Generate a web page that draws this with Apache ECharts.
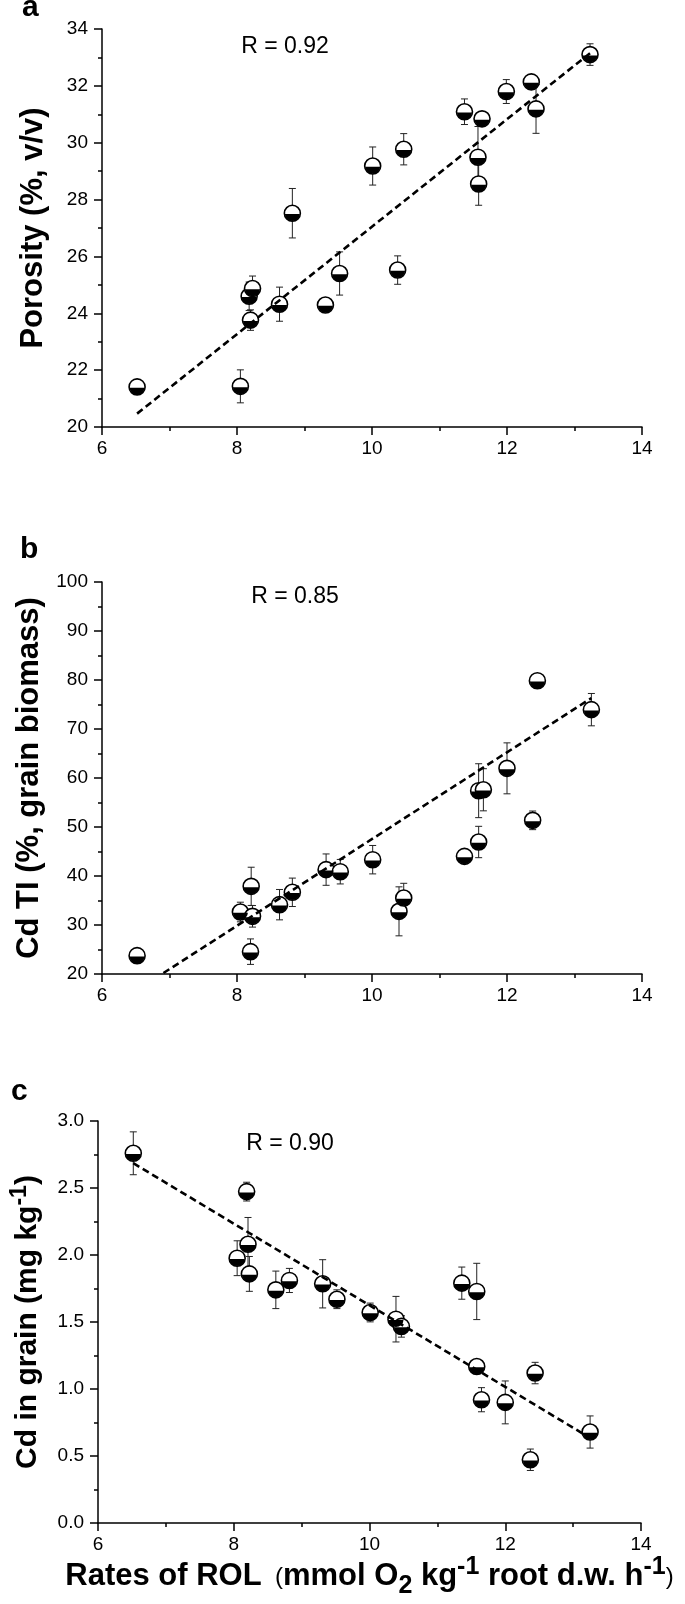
<!DOCTYPE html>
<html>
<head>
<meta charset="utf-8">
<script src="https://cdn.jsdelivr.net/npm/echarts@6/dist/echarts.min.js"></script>
<style>
html, body { margin: 0; padding: 0; background: #fff; }
#chart { width: 685px; height: 1604px; }
</style>
</head>
<body>
<div id="chart"></div>
<script>
// ---------- Data ----------
// Panel a: Porosity vs ROL
const rolA = [6.52, 8.05, 8.18, 8.23, 8.20, 8.63, 8.82, 9.31, 9.52, 10.01, 10.38, 10.47, 11.37, 11.57, 11.58, 11.63, 11.99, 12.36, 12.43, 13.23];
const porosity = [21.41, 21.43, 24.60, 24.87, 23.76, 24.32, 27.52, 24.29, 25.40, 29.18, 25.52, 29.77, 31.09, 29.49, 28.55, 30.84, 31.80, 32.14, 31.19, 33.10];
const porosityErr = [0.2, 0.58, 0.5, 0.44, 0.36, 0.6, 0.87, 0.15, 0.76, 0.67, 0.5, 0.55, 0.45, 1.08, 0.75, 0.2, 0.42, 0.2, 0.86, 0.38];
const fitA = [[6.52, 20.47], [13.23, 33.15]];

// Panel b: Cd TI vs ROL
const rolB = [6.52, 8.05, 8.21, 8.23, 8.20, 8.63, 8.82, 9.32, 9.53, 10.01, 10.40, 10.47, 11.37, 11.58, 11.58, 11.65, 12.00, 12.38, 12.45, 13.25];
const cdTI = [23.74, 32.65, 37.89, 31.77, 24.56, 34.15, 36.67, 41.3, 40.88, 43.33, 32.79, 35.51, 44.01, 46.94, 57.41, 57.6, 61.97, 51.36, 79.86, 73.95];
const cdTIErr = [0.6, 2.0, 3.9, 2.2, 2.6, 3.1, 2.9, 3.2, 2.5, 2.9, 5.0, 3.0, 0.8, 3.2, 5.5, 4.3, 5.2, 1.9, 1.0, 3.3];
const fitB = [[6.91, 20.2], [13.25, 76.3]];

// Panel c: Cd in grain vs ROL
const rolC = [6.52, 8.19, 8.05, 8.21, 8.23, 8.62, 8.82, 9.31, 9.52, 10.01, 10.39, 10.47, 11.36, 11.58, 11.58, 11.65, 12.00, 12.37, 12.44, 13.25];
const cdGrain = [2.759, 2.473, 1.976, 2.08, 1.859, 1.74, 1.81, 1.785, 1.67, 1.571, 1.521, 1.467, 1.79, 1.728, 1.168, 0.92, 0.90, 0.472, 1.119, 0.679];
const cdGrainErr = [0.16, 0.07, 0.13, 0.2, 0.13, 0.14, 0.09, 0.18, 0.07, 0.07, 0.17, 0.08, 0.12, 0.21, 0.03, 0.09, 0.16, 0.08, 0.08, 0.12];
const fitC = [[6.52, 2.685], [13.2, 0.65]];

// Axis ranges / labels
const xRange = [6, 14, 2];
const yRanges = [[20, 34, 2], [20, 100, 10], [0, 3, 0.5]];
const rLabels = ['R = 0.92', 'R = 0.85', 'R = 0.90'];
const panelLetters = ['a', 'b', 'c'];

// ---------- Chart ----------
const FONT = "'Liberation Sans', Arial, sans-serif";
const chart = echarts.init(document.getElementById('chart'), null, { renderer: 'canvas' });

const axisLineStyle = { color: '#000', width: 1.5 };
function xAxisCfg(i, extra) {
  return Object.assign({
    gridIndex: i, type: 'value', min: xRange[0], max: xRange[1], interval: xRange[2],
    axisLine: { show: true, onZero: false, lineStyle: axisLineStyle },
    axisTick: { show: true, inside: false, length: 8, lineStyle: axisLineStyle },
    minorTick: { show: true, splitNumber: 2, length: 4, lineStyle: axisLineStyle },
    splitLine: { show: false }, minorSplitLine: { show: false },
    axisLabel: { color: '#000', fontSize: 19, fontFamily: FONT, margin: 12 }
  }, extra || {});
}
function yAxisCfg(i, extra) {
  const r = yRanges[i];
  return Object.assign({
    gridIndex: i, type: 'value', min: r[0], max: r[1], interval: r[2],
    axisLine: { show: true, onZero: false, lineStyle: axisLineStyle },
    axisTick: { show: true, inside: false, length: 8, lineStyle: axisLineStyle },
    minorTick: { show: true, splitNumber: 2, length: 4, lineStyle: axisLineStyle },
    splitLine: { show: false }, minorSplitLine: { show: false },
    axisLabel: { color: '#000', fontSize: 19, fontFamily: FONT, margin: 14 },
    nameLocation: 'middle', nameRotate: 90
  }, extra || {});
}

function errSeries(i, xs, ys, es) {
  return {
    type: 'custom', xAxisIndex: i, yAxisIndex: i, z: 2, silent: true,
    data: xs.map((x, k) => [x, ys[k], es[k]]),
    encode: { x: 0, y: 1 },
    renderItem: function (params, api) {
      const x = api.value(0), y = api.value(1), e = api.value(2);
      const p1 = api.coord([x, y + e]);
      const p2 = api.coord([x, y - e]);
      const w = 3.5;
      const st = { stroke: '#222', lineWidth: 1 };
      return {
        type: 'group',
        children: [
          { type: 'line', shape: { x1: p1[0], y1: p1[1], x2: p2[0], y2: p2[1] }, style: st },
          { type: 'line', shape: { x1: p1[0] - w, y1: p1[1], x2: p1[0] + w, y2: p1[1] }, style: st },
          { type: 'line', shape: { x1: p2[0] - w, y1: p2[1], x2: p2[0] + w, y2: p2[1] }, style: st }
        ]
      };
    }
  };
}
function markerSeries(i, xs, ys) {
  const d = xs.map((x, k) => [x, ys[k]]);
  return [
    { type: 'scatter', xAxisIndex: i, yAxisIndex: i, z: 3, silent: true, data: d,
      symbol: 'circle', symbolSize: 16,
      itemStyle: { color: '#fff', borderColor: '#000', borderWidth: 1.6, opacity: 1 } },
    { type: 'scatter', xAxisIndex: i, yAxisIndex: i, z: 4, silent: true, data: d,
      symbol: 'path://M0,0 A10,10 0 0 0 20,0 Z', symbolSize: [15, 7], symbolOffset: [0, 4.3],
      itemStyle: { color: '#000', opacity: 1 } }
  ];
}
function fitSeries(i, pts) {
  return { type: 'line', xAxisIndex: i, yAxisIndex: i, z: 5, silent: true, data: pts,
    symbol: 'none', showSymbol: false,
    lineStyle: { color: '#000', width: 2.6, type: [7, 4] } };
}

const titleStyle = { fontSize: 31, fontWeight: 'bold', fontFamily: FONT, color: '#000', lineHeight: 30 };

const option = {
  animation: false,
  backgroundColor: '#fff',
  grid: [
    { left: 102, right: 43, top: 29, height: 398 },
    { left: 102, right: 43, top: 582, height: 392 },
    { left: 96, right: 44, top: 1121, height: 402 }
  ],
  xAxis: [
    xAxisCfg(0),
    xAxisCfg(1),
    xAxisCfg(2, {
      name: '{b|Rates of ROL}{p|  (}{b|mmol O}{sub|2}{b| kg}{sup|-1}{b| root d.w. h}{sup|-1}{p|)}',
      nameLocation: 'middle', nameGap: 31,
      nameTextStyle: {
        color: '#000', fontFamily: FONT,
        rich: {
          b: { fontSize: 31, fontWeight: 'bold', fontFamily: FONT, color: '#000', lineHeight: 44 },
          p: { fontSize: 24, fontWeight: 'normal', fontFamily: FONT, color: '#000', lineHeight: 44 },
          sub: { fontSize: 25, fontWeight: 'bold', fontFamily: FONT, color: '#000', lineHeight: 20, verticalAlign: 'bottom' },
          sup: { fontSize: 25, fontWeight: 'bold', fontFamily: FONT, color: '#000', lineHeight: 20, verticalAlign: 'top' }
        }
      }
    })
  ],
  yAxis: [
    yAxisCfg(0, { name: 'Porosity (%, v/v)', nameGap: 54, nameTextStyle: titleStyle }),
    yAxisCfg(1, { name: 'Cd TI (%, grain biomass)', nameGap: 55, nameTextStyle: titleStyle }),
    yAxisCfg(2, {
      axisLabel: { color: '#000', fontSize: 19, fontFamily: FONT, margin: 14, formatter: v => v.toFixed(1) },
      name: '{b|Cd in grain (mg kg}{sup|-1}{b|)}', nameGap: 50,
      nameTextStyle: {
        color: '#000', fontFamily: FONT,
        rich: {
          b: { fontSize: 30, fontWeight: 'bold', fontFamily: FONT, color: '#000', lineHeight: 40 },
          sup: { fontSize: 23, fontWeight: 'bold', fontFamily: FONT, color: '#000', lineHeight: 18, verticalAlign: 'top' }
        }
      }
    })
  ],
  graphic: [
    { type: 'text', x: 22, y: 8, style: { text: panelLetters[0], font: 'bold 30px ' + FONT, fill: '#000', align: 'left', verticalAlign: 'middle' } },
    { type: 'text', x: 20, y: 550, style: { text: panelLetters[1], font: 'bold 30px ' + FONT, fill: '#000', align: 'left', verticalAlign: 'middle' } },
    { type: 'text', x: 11, y: 1092, style: { text: panelLetters[2], font: 'bold 30px ' + FONT, fill: '#000', align: 'left', verticalAlign: 'middle' } },
    { type: 'text', x: 285, y: 47, style: { text: rLabels[0], font: '23px ' + FONT, fill: '#000', align: 'center', verticalAlign: 'middle' } },
    { type: 'text', x: 295, y: 597, style: { text: rLabels[1], font: '23px ' + FONT, fill: '#000', align: 'center', verticalAlign: 'middle' } },
    { type: 'text', x: 290, y: 1144, style: { text: rLabels[2], font: '23px ' + FONT, fill: '#000', align: 'center', verticalAlign: 'middle' } }
  ],
  series: [
    errSeries(0, rolA, porosity, porosityErr),
    ...markerSeries(0, rolA, porosity),
    fitSeries(0, fitA),
    errSeries(1, rolB, cdTI, cdTIErr),
    ...markerSeries(1, rolB, cdTI),
    fitSeries(1, fitB),
    errSeries(2, rolC, cdGrain, cdGrainErr),
    ...markerSeries(2, rolC, cdGrain),
    fitSeries(2, fitC)
  ]
};
chart.setOption(option);
</script>
</body>
</html>
